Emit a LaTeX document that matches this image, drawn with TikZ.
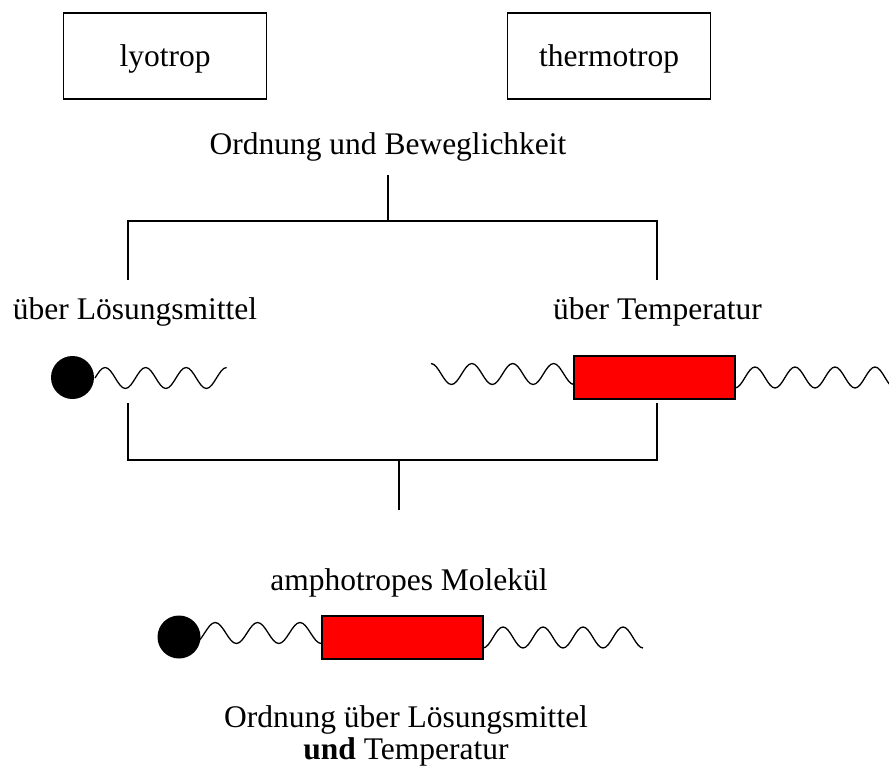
\documentclass[tikz,border=0pt]{standalone}
\usepackage{fontspec}
\setmainfont{Liberation Serif}
\begin{document}
\begin{tikzpicture}[x=1pt,y=-1pt,
  txt/.style={font=\fontsize{31.5}{36}\selectfont, inner sep=0pt},
  topbox/.style={txt, draw, line width=1.3pt, minimum width=203pt, minimum height=86pt, text height=22pt, text depth=1pt},
  conn/.style={line width=1.3pt},
  wave/.style={line width=1.3pt},
  core/.style={draw, line width=1.3pt, fill=red},
  head/.style={fill=black}]
\useasboundingbox[fill=white] (0,0) rectangle (889,773);

% top boxes
\node[topbox] (lyo) at (165,56) {lyotrop};
\node[topbox] (thermo) at (609,56) {thermotrop};

% texts
\node[txt, anchor=base] (ob) at (388,154) {Ordnung und Beweglichkeit};
\node[txt, anchor=base] (ls) at (135,319) {über Lösungsmittel};
\node[txt, anchor=base] (tp) at (657.5,319) {über Temperatur};
\node[txt, anchor=base] (amph) at (409,590) {amphotropes Molekül};
\node[txt, anchor=base] (res1) at (406,727) {Ordnung über Lösungsmittel};
\node[txt, anchor=base] (res2) at (406,759) {\textbf{und} Temperatur};

% upper bracket
\coordinate (t0) at (388,175);
\coordinate (t1) at (388,221);
\coordinate (tl) at (128,221);
\coordinate (tr) at (657,221);
\coordinate (tlb) at (128,280);
\coordinate (trb) at (657,280);
\draw[conn] (t0) -- (t1);
\draw[conn] (tlb) -- (tl) -- (tr) -- (trb);

% lower bracket
\coordinate (bl) at (128,403);
\coordinate (br) at (657,403);
\coordinate (bll) at (128,460);
\coordinate (brr) at (657,460);
\coordinate (bm) at (399,460);
\coordinate (bmb) at (399,510);
\draw[conn] (bl) -- (bll) -- (brr) -- (br);
\draw[conn] (bm) -- (bmb);

% left molecule (lyotrop)
\draw[wave] (95,378)
  \foreach \i in {1,2,3}{ sin ++(10.125,-10.5) cos ++(10.125,10.5) sin ++(10.125,10.5) cos ++(10.125,-10.5) }
  sin ++(10.125,-10.5);
\fill[head] (72.5,377.5) circle (21.5);

% right molecule (thermotrop)
\draw[wave] (431,363.5)
  \foreach \i in {1,2,3}{ cos ++(10.214,10.5) sin ++(10.214,10.5) cos ++(10.214,-10.5) sin ++(10.214,-10.5) }
  cos ++(10.214,10.5) sin ++(10.214,10.5);
\draw[wave] (735,388)
  \foreach \i in {1,2,3,4}{ cos ++(10,-10.5) sin ++(10,-10.5) cos ++(10,10.5) sin ++(10,10.5) };
\draw[core] (574,356) rectangle (735,399);

% amphotropic molecule
\draw[wave] (194,643.5)
  cos ++(10.6,-10.5) sin ++(10.6,-10.5)
  \foreach \i in {1,2}{ cos ++(10.6,10.5) sin ++(10.6,10.5) cos ++(10.6,-10.5) sin ++(10.6,-10.5) }
  cos ++(10.6,10.5) sin ++(10.6,10.5);
\draw[wave] (483,648)
  \foreach \i in {1,2,3,4}{ cos ++(10,-10.5) sin ++(10,-10.5) cos ++(10,10.5) sin ++(10,10.5) };
\draw[core] (322,616) rectangle (483,659);
\fill[head] (179,637) circle (21.5);
\end{tikzpicture}
\end{document}
